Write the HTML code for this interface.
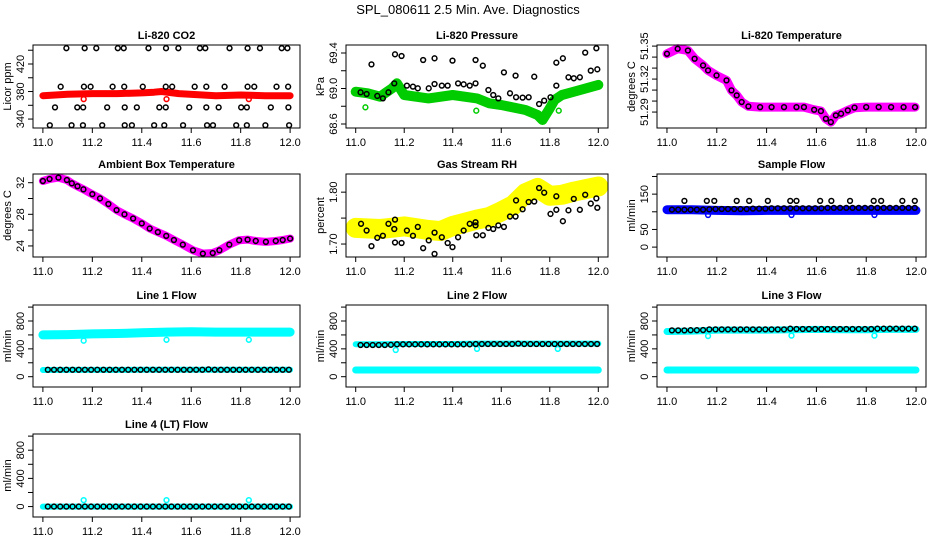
<!DOCTYPE html>
<html><head><meta charset="utf-8"><style>
html,body{margin:0;padding:0;background:#fff}
svg{display:block;font-family:"Liberation Sans",Arial,sans-serif}
</style></head><body>
<svg id="c" width="936" height="540" viewBox="0 0 936 540">
<rect width="936" height="540" fill="#fff"/>
<text x="468" y="14" text-anchor="middle" font-size="13">SPL_080611  2.5 Min. Ave. Diagnostics</text>
</svg>
<script>
// ---- shared x data ----
const xTicks = [11.0, 11.2, 11.4, 11.6, 11.8, 12.0];
const xTickLabels = ["11.0", "11.2", "11.4", "11.6", "11.8", "12.0"];
const gridT = [11.02,11.045,11.07,11.095,11.12,11.145,11.17,11.195,11.22,11.245,11.27,11.295,11.32,11.345,11.37,11.395,11.42,11.445,11.47,11.495,11.52,11.545,11.57,11.595,11.62,11.645,11.67,11.695,11.72,11.745,11.77,11.795,11.82,11.845,11.87,11.895,11.92,11.945,11.97,11.995];
const outlierT = [11.165, 11.5, 11.833];
const bandT = [11.0,11.1,11.2,11.3,11.4,11.5,11.6,11.7,11.8,11.9,12.0];

// ---- CO2 ----
const co2BandT = [11.0,11.1,11.2,11.3,11.4,11.45,11.48,11.55,11.7,11.8,11.9,12.0];
const co2BandV = [374,376,377,377,378,379,380,377,374,375,374,374];
const co2OutV = [369,369,369];
const co2BlackT = [11.095,11.169,11.216,11.303,11.327,11.427,11.498,11.548,11.635,11.657,11.755,11.828,11.878,11.966,11.989,
 11.072,11.166,11.193,11.282,11.329,11.404,11.497,11.523,11.614,11.661,11.735,11.828,11.855,11.945,11.992,
 11.049,11.139,11.163,11.26,11.331,11.38,11.471,11.497,11.592,11.661,11.711,11.802,11.825,11.922,11.993,
 11.028,11.116,11.162,11.24,11.331,11.36,11.45,11.491,11.567,11.664,11.688,11.782,11.825,11.9,11.996];
const co2BlackV = [443,443,443,443,443,443,443,443,443,443,443,443,443,443,443,
 387,387,387,387,387,387,387,387,387,387,387,387,387,387,387,
 357,357,357,357,357,357,357,357,357,357,357,357,357,357,357,
 331,331,331,331,331,331,331,331,331,331,331,331,331,331,331];

// ---- Pressure ----
const presBandT = [11.0,11.05,11.1,11.15,11.17,11.2,11.3,11.4,11.5,11.55,11.6,11.7,11.75,11.77,11.8,11.82,11.85,11.9,11.95,12.0];
const presBandV = [68.964,68.946,68.908,69.002,69.058,68.927,68.889,68.927,68.889,68.833,68.814,68.758,68.701,68.645,68.777,68.871,68.927,68.964,69.002,69.04];
const presOutT = [11.04, 11.497, 11.837];
const presOutV = [68.788, 68.75, 68.75];
const presBlackT = [11.020,11.045,11.065,11.089,11.112,11.135,11.159,11.162,11.189,11.211,11.236,11.256,11.278,11.301,11.325,11.325,11.355,11.379,11.399,11.422,11.445,11.470,11.494,11.494,11.524,11.547,11.567,11.588,11.611,11.636,11.659,11.661,11.688,11.713,11.736,11.756,11.777,11.803,11.827,11.827,11.854,11.877,11.899,11.924,11.946,11.969,11.992,11.996];
const presBlackV = [68.957,68.938,69.272,68.916,68.889,68.957,69.058,69.385,69.366,69.032,69.021,69.002,69.321,69.002,69.340,69.051,69.032,69.032,69.314,69.058,69.047,69.032,69.321,69.058,69.257,68.983,68.927,68.889,69.182,68.946,69.145,68.901,68.897,68.901,69.133,68.825,68.863,68.901,69.291,69.032,69.340,69.126,69.115,69.126,69.404,69.201,69.453,69.216];

// ---- Li-820 temperature ----
const tempT = [11.0,11.043,11.084,11.111,11.145,11.165,11.199,11.239,11.259,11.28,11.3,11.327,11.374,11.42,11.47,11.52,11.55,11.591,11.618,11.638,11.658,11.678,11.699,11.726,11.753,11.8,11.85,11.9,11.95,11.996];
const tempV = [51.343,51.3476,51.346,51.3385,51.3324,51.3279,51.3233,51.3188,51.3097,51.3052,51.2991,51.2952,51.2945,51.2945,51.2945,51.2945,51.2945,51.2921,51.2909,51.2839,51.2809,51.287,51.2885,51.2915,51.294,51.2945,51.2945,51.2945,51.2945,51.2945];

// ---- Ambient ----
const ambT = [11.0,11.027,11.063,11.097,11.117,11.14,11.164,11.2,11.231,11.265,11.298,11.33,11.365,11.4,11.432,11.465,11.499,11.53,11.566,11.607,11.647,11.687,11.714,11.754,11.794,11.828,11.861,11.902,11.942,11.97,12.0];
const ambV = [32.21,32.47,32.64,32.34,31.92,31.55,31.16,30.55,30.01,29.3,28.53,28.0,27.47,26.85,26.20,25.75,25.27,24.75,24.17,23.45,23.03,23.11,23.45,24.17,24.72,24.80,24.63,24.51,24.63,24.75,24.93];

// ---- Gas stream RH ----
const rhBandT = [11.0,11.1,11.2,11.3,11.35,11.4,11.5,11.55,11.6,11.65,11.7,11.75,11.8,11.85,11.9,11.95,12.0];
const rhBandV = [1.731,1.729,1.734,1.727,1.725,1.735,1.747,1.752,1.763,1.775,1.798,1.808,1.793,1.795,1.801,1.806,1.811];
const rhBlackT = [11.022,11.045,11.065,11.089,11.112,11.135,11.159,11.162,11.162,11.189,11.211,11.236,11.256,11.278,11.301,11.325,11.325,11.355,11.379,11.399,11.422,11.445,11.470,11.494,11.494,11.497,11.524,11.547,11.567,11.588,11.611,11.636,11.659,11.661,11.688,11.713,11.736,11.756,11.777,11.803,11.827,11.827,11.854,11.877,11.899,11.924,11.946,11.969,11.992,11.996];
const rhBlackV = [1.739,1.726,1.696,1.712,1.716,1.739,1.729,1.747,1.703,1.702,1.726,1.716,1.733,1.692,1.707,1.722,1.681,1.713,1.702,1.694,1.713,1.726,1.739,1.736,1.742,1.717,1.717,1.731,1.729,1.736,1.733,1.753,1.753,1.784,1.767,1.781,1.782,1.808,1.799,1.758,1.792,1.766,1.744,1.765,1.787,1.766,1.795,1.778,1.788,1.770];

// ---- Sample flow ----
const sampBandV = [106,106,104,103,104,104,104,104,104,104,104];
const sampOutV = [91,91,91];
const sampHighT = [11.07,11.16,11.19,11.28,11.33,11.405,11.495,11.52,11.615,11.66,11.735,11.83,11.86,11.945,11.995];
const sampHighV = [131,131,131,131,131,131,131,131,131,131,131,131,131,131,131];
const sampLowV = [106,106,106,106,106,106,107,108,108,108,108,108,108,109,109,109,110,110,110,110,110,110,110,110,110,111,111,111,111,111,111,111,111,111,111,111,111,111,111,111];

// ---- Line flows ----
const l1HighV = [600,605,615,620,630,640,645,640,640,640,640];
const l1LowV = [96,97,98,98,99,100,100,100,100,100,100];
const l1Out = [517,530,530];
const l1BlackV = [100,100,100,100,100,100,100,100,100,100,100,100,100,100,100,100,100,100,100,100,100,100,100,100,100,100,105,100,100,100,100,100,100,100,100,100,100,100,100,100];
const l2HighV = [465,465,470,470,470,475,475,475,475,475,475];
const l2LowV = [96,96,96,96,96,96,96,96,96,96,96];
const l2Out = [383,400,400];
const l2BlackV = [455,455,455,455,455,458,465,465,465,465,465,465,465,465,465,465,465,465,465,470,470,470,470,470,470,470,475,470,470,470,470,470,470,470,470,470,470,470,470,470];
const l3HighV = [650,655,670,670,670,675,680,675,675,680,680];
const l3LowV = [96,96,96,96,96,96,96,96,96,96,96];
const l3Out = [584,590,590];
const l3BlackV = [665,665,665,668,668,670,680,680,680,680,680,680,680,680,680,680,680,680,680,690,685,685,685,685,685,685,685,685,685,685,685,685,685,690,690,690,690,690,690,690];
const l4BandV = [0,0,0,0,0,0,0,0,0,0,0];
const l4Out = [91,91,91];
const l4BlackV = [0,0,0,0,0,0,0,0,0,0,0,0,0,0,0,0,0,0,0,0,0,0,0,0,0,0,0,0,0,0,0,0,0,0,0,0,0,0,0,0];

// ---- layout ----
const NS = "http://www.w3.org/2000/svg";
const svg = document.getElementById('c');
const colL = [33, 346, 657], colR = [300, 608, 926];
const rowT = [45, 174, 305, 434], rowB = [128, 257, 387, 517];

function mk(tag, attrs, parent) {
  const e = document.createElementNS(NS, tag);
  for (const k in attrs) e.setAttribute(k, attrs[k]);
  (parent || svg).appendChild(e);
  return e;
}

function panel(name, col, row, title, ylab, ylim, yTicks, yLabels) {
  const L = colL[col], R = colR[col], T = rowT[row], B = rowB[row];
  const g = mk('g', {});
  
  
  const x0 = 10.96, x1 = 12.04;
  const sx = v => L + (v - x0) / (x1 - x0) * (R - L);
  const sy = v => B - (v - ylim[0]) / (ylim[1] - ylim[0]) * (B - T);
  const plot = mk('g', {}, g);
  
  
  const box = mk('rect', {x: L, y: T, width: R - L, height: B - T, fill: 'none', stroke: '#000', 'stroke-width': 1}, g);
  
  
  const t = mk('text', {x: (L + R) / 2, y: T - 6, 'text-anchor': 'middle', 'font-size': 11, 'font-weight': 'bold'}, g);
  t.textContent = title;
  
  
  const xa = mk('g', {}, g);
  
  
  xTicks.forEach((v, i) => {
    mk('line', {x1: sx(v), x2: sx(v), y1: B, y2: B + 5, stroke: '#000'}, xa);
    const tl = mk('text', {x: sx(v), y: B + 18, 'text-anchor': 'middle', 'font-size': 11}, xa);
    tl.textContent = xTickLabels[i];
    
    
  });
  const ya = mk('g', {}, g);
  
  
  yTicks.forEach(v => {
    mk('line', {x1: L - 5, x2: L, y1: sy(v), y2: sy(v), stroke: '#000'}, ya);
  });
  yLabels.forEach(lb => {
    const y = sy(parseFloat(lb));
    const tl = mk('text', {x: L - 9, y: y, 'text-anchor': 'middle', 'font-size': 11, transform: `rotate(-90 ${L - 9} ${y})`}, ya);
    tl.textContent = lb;
    
    
  });
  const yl = mk('text', {x: L - 22, y: (T + B) / 2, 'text-anchor': 'middle', 'font-size': 11, transform: `rotate(-90 ${L - 22} ${(T + B) / 2})`}, g);
  yl.textContent = ylab;
  
  
  return {sx, sy, g: plot};
}

function band(p, ts, vs, color, w, name) {
  const pts = ts.map((t, i) => p.sx(t).toFixed(1) + ',' + p.sy(vs[i]).toFixed(1)).join(' ');
  const e = mk('polyline', {points: pts, fill: 'none', stroke: color, 'stroke-width': w, 'stroke-linejoin': 'round', 'stroke-linecap': 'round'}, p.g);
  
  
}
function pts(p, ts, vs, color, name, r) {
  const grp = mk('g', {}, p.g);
  
  
  ts.forEach((t, i) => {
    const c = mk('circle', {cx: p.sx(t), cy: p.sy(vs[i]), r: r || 2.4, fill: 'none', stroke: color, 'stroke-width': 1.5}, grp);
    
    
  });
}

const flowTicks = [0, 200, 400, 600, 800, 1000];
const flowLabels = ["0", "400", "800"];

// CO2
let p = panel('co2', 0, 0, 'Li-820 CO2', 'Licor ppm', [327, 447.6], [340,360,380,400,420,440], ["340","380","420"]);
band(p, co2BandT, co2BandV, '#ff0000', 7, 'co2-red-band');
pts(p, outlierT, co2OutV, '#ff0000', 'co2-red-outliers');
pts(p, co2BlackT, co2BlackV, '#000', 'co2-black-points');

// Pressure
p = panel('pressure', 1, 0, 'Li-820 Pressure', 'kPa', [68.555, 69.49], [68.6,68.8,69.0,69.2,69.4], ["68.6","69.0","69.4"]);
band(p, presBandT, presBandV, '#00cc00', 10, 'pressure-green-band');
pts(p, presOutT, presOutV, '#00cc00', 'pressure-green-outliers');
pts(p, presBlackT, presBlackV, '#000', 'pressure-black-points');

// Li-820 temperature
p = panel('li820-temp', 2, 0, 'Li-820 Temperature', 'degrees C', [51.2755, 51.351], [51.29,51.30,51.31,51.32,51.33,51.34,51.35], ["51.29","51.32","51.35"]);
band(p, tempT, tempV, '#ff00ff', 9, 'temp-magenta-band');
pts(p, tempT, tempV, '#000', 'temp-black-points');

// Ambient
p = panel('ambient-temp', 0, 1, 'Ambient Box Temperature', 'degrees C', [22.6, 33.1], [24,26,28,30,32], ["24","28","32"]);
band(p, ambT, ambV, '#ff00ff', 8, 'ambient-magenta-band');
pts(p, ambT, ambV, '#000', 'ambient-black-points');

// RH
p = panel('gas-rh', 1, 1, 'Gas Stream RH', 'percent', [1.675, 1.835], [1.70,1.75,1.80], ["1.70","1.80"]);
band(p, rhBandT, rhBandV, '#ffff00', 20, 'rh-yellow-band');
pts(p, rhBlackT, rhBlackV, '#000', 'rh-black-points');

// Sample flow
p = panel('sample-flow', 2, 1, 'Sample Flow', 'ml/min', [-28, 207], [0,50,100,150,200], ["0","50","150"]);
band(p, bandT, sampBandV, '#0000ff', 9, 'sample-blue-band');
pts(p, outlierT, sampOutV, '#0000ff', 'sample-blue-outliers');
pts(p, gridT, sampLowV, '#000', 'sample-black-points');
pts(p, sampHighT, sampHighV, '#000', 'sample-black-high-points');

// Line 1
p = panel('line1-flow', 0, 2, 'Line 1 Flow', 'ml/min', [-148, 1030], flowTicks, flowLabels);
band(p, bandT, l1HighV, '#00ffff', 9, 'line1-cyan-high-band');
band(p, bandT, l1LowV, '#00ffff', 6, 'line1-cyan-low-band');
pts(p, outlierT, l1Out, '#00ffff', 'line1-cyan-outliers');
pts(p, gridT, l1BlackV, '#000', 'line1-black-points');

// Line 2
p = panel('line2-flow', 1, 2, 'Line 2 Flow', 'ml/min', [-148, 1030], flowTicks, flowLabels);
band(p, bandT, l2HighV, '#00ffff', 6, 'line2-cyan-high-band');
band(p, bandT, l2LowV, '#00ffff', 7, 'line2-cyan-low-band');
pts(p, outlierT, l2Out, '#00ffff', 'line2-cyan-outliers');
pts(p, gridT, l2BlackV, '#000', 'line2-black-points');

// Line 3
p = panel('line3-flow', 2, 2, 'Line 3 Flow', 'ml/min', [-148, 1030], flowTicks, flowLabels);
band(p, bandT, l3HighV, '#00ffff', 7, 'line3-cyan-high-band');
band(p, bandT, l3LowV, '#00ffff', 7, 'line3-cyan-low-band');
pts(p, outlierT, l3Out, '#00ffff', 'line3-cyan-outliers');
pts(p, gridT, l3BlackV, '#000', 'line3-black-points');

// Line 4
p = panel('line4-flow', 0, 3, 'Line 4 (LT) Flow', 'ml/min', [-148, 1030], flowTicks, flowLabels);
band(p, bandT, l4BandV, '#00ffff', 6, 'line4-cyan-band');
pts(p, outlierT, l4Out, '#00ffff', 'line4-cyan-outliers');
pts(p, gridT, l4BlackV, '#000', 'line4-black-points');
</script>
</body></html>
